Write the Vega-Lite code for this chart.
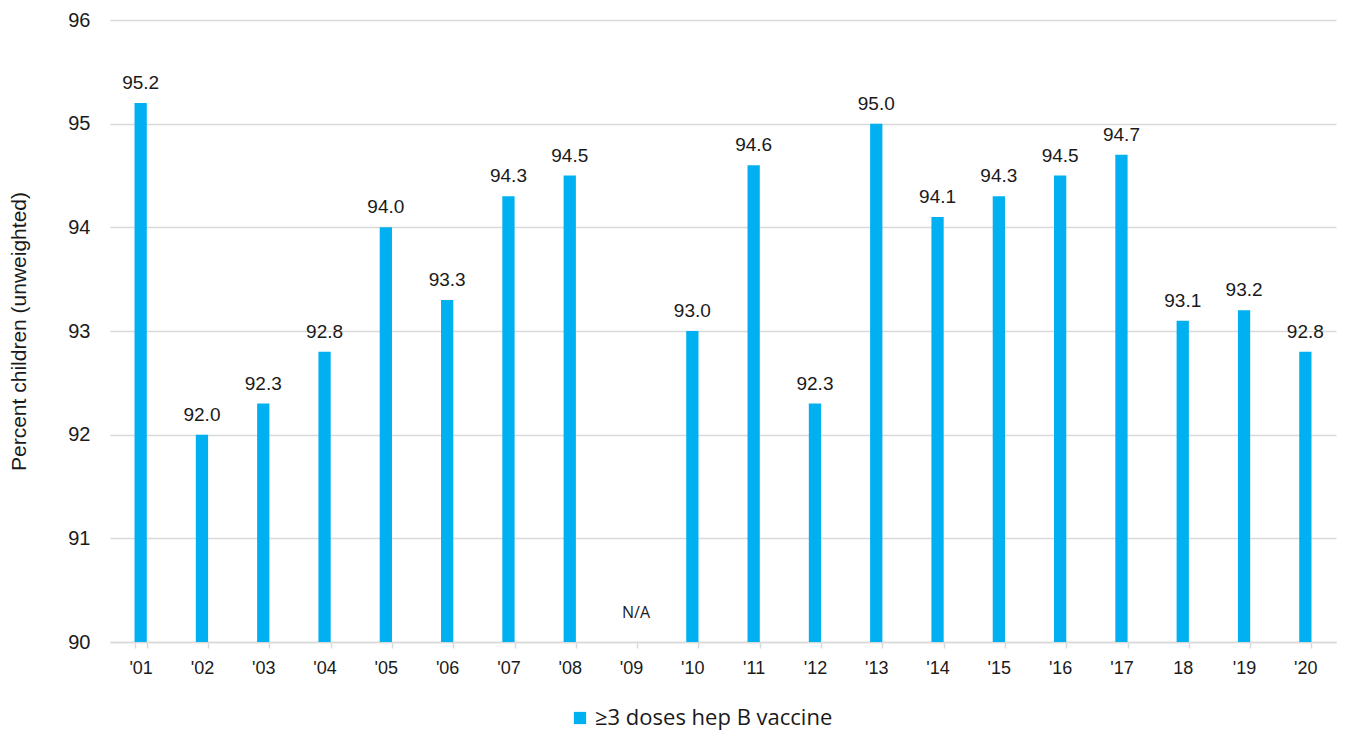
{
  "$schema": "https://vega.github.io/schema/vega-lite/v6.json",
  "width": 1226,
  "height": 622,
  "autosize": {"type": "none"},
  "padding": {"left": 110, "top": 20, "right": 10, "bottom": 90},
  "background": "white",
  "config": {
    "view": {"stroke": null},
    "font": "Liberation Sans",
    "axis": {"labelFont": "Liberation Sans", "titleFont": "Liberation Sans", "labelColor": "#1a1a1a", "titleColor": "#1a1a1a"}
  },
  "data": {
    "values": [
      {"year": "'01", "value": 95.2},
      {"year": "'02", "value": 92.0},
      {"year": "'03", "value": 92.3},
      {"year": "'04", "value": 92.8},
      {"year": "'05", "value": 94.0},
      {"year": "'06", "value": 93.3},
      {"year": "'07", "value": 94.3},
      {"year": "'08", "value": 94.5},
      {"year": "'09", "value": null},
      {"year": "'10", "value": 93.0},
      {"year": "'11", "value": 94.6},
      {"year": "'12", "value": 92.3},
      {"year": "'13", "value": 95.0},
      {"year": "'14", "value": 94.1},
      {"year": "'15", "value": 94.3},
      {"year": "'16", "value": 94.5},
      {"year": "'17", "value": 94.7},
      {"year": "18", "value": 93.1},
      {"year": "'19", "value": 93.2},
      {"year": "'20", "value": 92.8}
    ]
  },
  "encoding": {
    "x": {
      "field": "year",
      "type": "nominal",
      "sort": ["'01", "'02", "'03", "'04", "'05", "'06", "'07", "'08", "'09", "'10", "'11", "'12", "'13", "'14", "'15", "'16", "'17", "18", "'19", "'20"],
      "scale": {"paddingInner": 0.8, "paddingOuter": 0.4},
      "axis": {
        "title": null,
        "labelAngle": 0,
        "labelFontSize": 18,
        "labelPadding": 11,
        "tickBand": "extent",
        "tickColor": "#d9d9d9",
        "tickSize": 6,
        "tickWidth": 1.5,
        "domainColor": "#d9d9d9",
        "domainWidth": 1.5,
        "grid": false
      }
    }
  },
  "layer": [
    {
      "mark": {"type": "bar", "clip": true},
      "encoding": {
        "y": {
          "field": "value",
          "type": "quantitative",
          "scale": {"domain": [90, 96], "zero": false, "nice": false},
          "axis": {
            "title": "Percent children (unweighted)",
            "titleFontSize": 21,
            "titleFontWeight": "normal",
            "titlePadding": 38,
            "values": [90, 91, 92, 93, 94, 95, 96],
            "format": "d",
            "labelOverlap": false,
            "labelFontSize": 20,
            "labelPadding": 20,
            "ticks": false,
            "domain": false,
            "gridColor": "#d9d9d9",
            "gridWidth": 1.5
          }
        },
        "y2": {"datum": 90},
        "color": {
          "datum": "≥3 doses hep B vaccine",
          "type": "nominal",
          "scale": {"range": ["#00B0F0"]},
          "legend": {
            "title": null,
            "orient": "none",
            "legendX": 459,
            "legendY": 687,
            "padding": 0,
            "symbolType": "square",
            "symbolSize": 150,
            "symbolStrokeWidth": 0,
            "labelFont": "Open Sans",
            "labelFontSize": 22,
            "labelLimit": 0,
            "labelColor": "#1a1a1a"
          }
        }
      }
    },
    {
      "transform": [{"filter": "isValid(datum.value)"}],
      "mark": {"type": "text", "baseline": "bottom", "dy": -10, "fontSize": 19, "color": "#1a1a1a"},
      "encoding": {
        "y": {"field": "value", "type": "quantitative"},
        "text": {"field": "value", "type": "quantitative", "format": ".1f"}
      }
    },
    {
      "transform": [{"filter": "!isValid(datum.value)"}],
      "mark": {"type": "text", "baseline": "middle", "dy": -29, "dx": 5, "fontSize": 16, "font": "Open Sans", "color": "#1a1a1a", "text": "N/A"},
      "encoding": {
        "y": {"datum": 90}
      }
    }
  ]
}
